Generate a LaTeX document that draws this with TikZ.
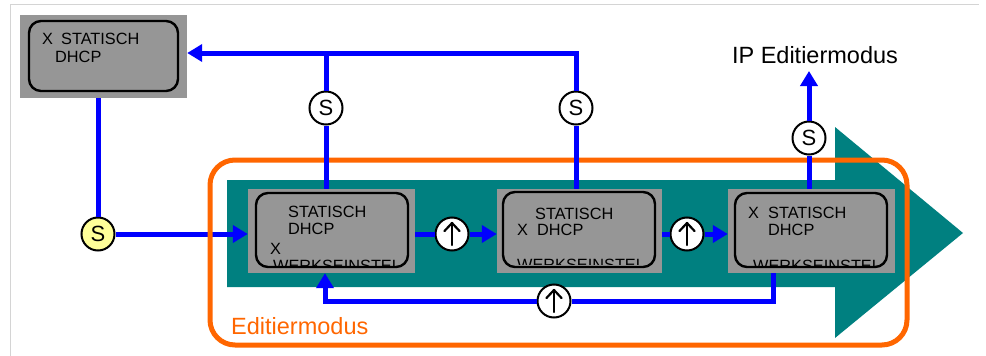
\documentclass[tikz,border=0pt]{standalone}
\usepackage{fontspec}
\setmainfont{Liberation Sans}
\usetikzlibrary{arrows.meta}

\definecolor{tealA}{HTML}{008080}
\definecolor{grayA}{HTML}{969696}
\definecolor{blueA}{HTML}{0000FF}
\definecolor{orangeA}{HTML}{FF6600}
\definecolor{yellowA}{HTML}{FFFF99}
\definecolor{frameA}{HTML}{D4D4D4}

\newcommand{\boxfont}{\fontsize{16.3}{19}\selectfont}

\tikzset{
  graybox/.style={fill=grayA, draw=none, inner sep=0pt},
  innerbox/.style={draw=black, line width=2.4pt, rounded corners=12pt},
  lbl/.style={anchor=base west, inner sep=0pt, font=\boxfont, text=black},
  conn/.style={draw=blueA, line width=5pt},
  tip/.style={-{Triangle[length=15pt,width=17pt]}},
  sw/.style={circle, draw=black, line width=2pt, fill=white, minimum size=33pt,
             inner sep=0pt, font=\fontsize{22}{22}\selectfont},
  upglyph/.style={draw=black, line width=2.2pt, line cap=round, line join=round},
}

% upward arrow symbol drawn inside a switch circle
\newcommand{\uparrowin}[1]{%
  \draw[upglyph] ([yshift=-11pt]#1.center) -- ([yshift=11pt]#1.center);
  \draw[upglyph] ([xshift=-7.5pt,yshift=3pt]#1.center) -- ([yshift=11pt]#1.center)
    -- ([xshift=7.5pt,yshift=3pt]#1.center);
}

\begin{document}
\begin{tikzpicture}[x=1pt, y=-1pt]
\useasboundingbox (0,0) rectangle (986,356);

% page edge lines (top and left)
\draw[frameA, line width=1pt] (10,356) -- (10,4) -- (979,4);

% big teal arrow
\fill[tealA] (227,180) -- (835,180) -- (835,127) -- (963,233)
  -- (835,338) -- (835,287) -- (227,287) -- cycle;

% gray panels
\node[graybox, minimum width=167pt, minimum height=83pt] (tb) at (103.5,56.5) {};
\node[graybox, minimum width=167pt, minimum height=84pt] (b1) at (331.5,231) {};
\node[graybox, minimum width=165pt, minimum height=84pt] (b2) at (579.5,231) {};
\node[graybox, minimum width=167pt, minimum height=84pt] (b3) at (811.5,231) {};

% rounded frames inside the panels
\draw[innerbox] (29,21) rectangle (178,91);
\draw[innerbox] (256,193) rectangle (408,267);
\draw[innerbox] (503,192) rectangle (655,267);
\draw[innerbox] (735,193) rectangle (887,267);

% panel texts
\node[lbl] (tbx) at (42,44) {X};
\node[lbl] (tbs) at (61,44) {STATISCH};
\node[lbl] (tbd) at (55,62) {DHCP};

\node[lbl] (b1s) at (288,217) {STATISCH};
\node[lbl] (b1d) at (288,234) {DHCP};
\node[lbl] (b1x) at (270,254) {X};

\node[lbl] (b2s) at (535,219) {STATISCH};
\node[lbl] (b2x) at (517,235) {X};
\node[lbl] (b2d) at (537,235) {DHCP};

\node[lbl] (b3x) at (748,218) {X};
\node[lbl] (b3s) at (768,218) {STATISCH};
\node[lbl] (b3d) at (768,235) {DHCP};

% cut-off bottom line in each panel
\begin{scope}
  \clip (258,195) rectangle (406,265);
  \node[lbl] (b1w) at (273,271) {WERKSEINSTEL};
\end{scope}
\begin{scope}
  \clip (505,195) rectangle (653,264);
  \node[lbl] (b2w) at (517,270) {WERKSEINSTEL};
\end{scope}
\begin{scope}
  \clip (737,195) rectangle (885,265);
  \node[lbl] (b3w) at (753,271) {WERKSEINSTEL};
\end{scope}

% switch circles
\node[sw, fill=yellowA] (ys) at (98,234) {S};
\node[sw] (s1) at (326,108) {S};
\node[sw] (s2) at (576,108) {S};
\node[sw] (s3) at (809,138) {S};
\node[sw] (u1) at (452,234) {};
\node[sw] (u2) at (687,234) {};
\node[sw] (u3) at (554,301) {};
\uparrowin{u1}
\uparrowin{u2}
\uparrowin{u3}

% corner points of the wiring
\coordinate (j1) at (326,53);
\coordinate (j2) at (576,53);
\coordinate (l1) at (325,301);
\coordinate (l3) at (773,301);
\coordinate (ipend) at (809,71);

% entry into the first panel (under the orange frame)
\draw[conn] (tb.south -| ys) -- (ys);
\draw[conn, tip] (ys) -- (b1.west |- ys);

% orange edit-mode frame
\draw[orangeA, line width=5pt, rounded corners=25pt] (210,160) rectangle (907,345);
\node[anchor=base west, inner sep=0pt, text=orangeA, font=\fontsize{23.5}{26}\selectfont]
  (em) at (231,334) {Editiermodus};

% panel to panel
\draw[conn] (b1.east |- u1) -- (u1);
\draw[conn, tip] (u1) -- (b2.west |- u1);
\draw[conn] (b2.east |- u2) -- (u2);
\draw[conn, tip] (u2) -- (b3.west |- u2);

% loop back from the last panel to the first
\draw[conn] (b3.south -| l3) -- (l3) -- (u3);
\draw[conn, tip] (u3) -- (l1) -- (b1.south -| l1);

% return lines to the top-left panel
\draw[conn] (b1.north -| s1) -- (s1);
\draw[conn] (s1) -- (j1);
\draw[conn] (b2.north -| s2) -- (s2);
\draw[conn, tip] (s2) -- (j2) -- (j2 -| tb.east);

% exit upwards
\draw[conn] (b3.north -| s3) -- (s3);
\draw[conn, tip] (s3) -- (ipend);
\node[font=\fontsize{23.5}{26}\selectfont, inner sep=0pt] (ip) at (815,55) {IP Editiermodus};

\end{tikzpicture}
\end{document}
